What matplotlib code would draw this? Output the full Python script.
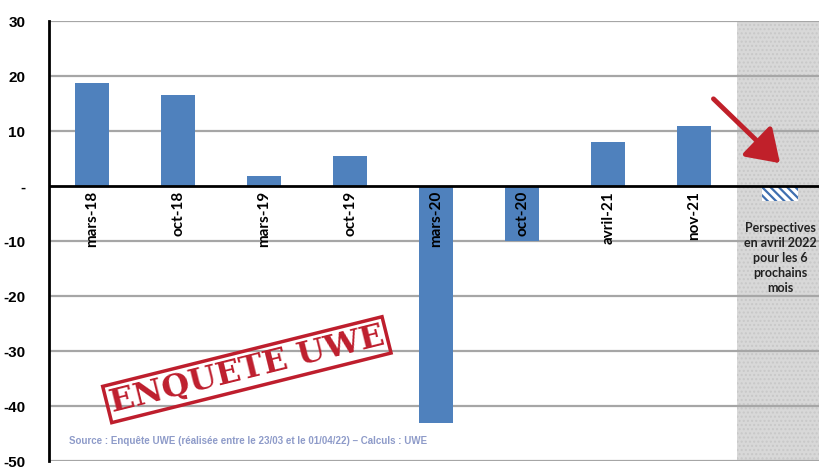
import matplotlib
matplotlib.use("Agg")
import matplotlib.pyplot as plt
from matplotlib.patches import FancyArrowPatch

categories = ["mars-18", "oct-18", "mars-19", "oct-19", "mars-20", "oct-20", "avril-21", "nov-21"]
values = [18.8, 16.6, 1.8, 5.4, -43.1, -10.0, 8.0, 11.0]
perspective_value = -2.7
perspective_label = "Perspectives\nen avril 2022\npour les 6\nprochains\nmois"
yticks = [30, 20, 10, 0, -10, -20, -30, -40, -50]
ytick_labels = ["30", "20", "10", "-", "-10", "-20", "-30", "-40", "-50"]
source_text = "Source : Enquête UWE (réalisée entre le 23/03 et le 01/04/22) – Calculs : UWE"
stamp_text = "ENQUETE UWE"

fig = plt.figure(figsize=(8.19, 4.68), dpi=100)
ax = fig.add_axes([49/819, 7/468, 1 - 49/819, (461-21)/468])

ax.set_xlim(-0.5, 8.45)
ax.set_ylim(-50, 30)

# shaded perspective area
ax.axvspan(7.5, 8.6, facecolor="#D8D8D8", edgecolor="#C8C8C8", hatch="....", linewidth=0, zorder=0)

# gridlines
for y in yticks:
    if y != 0:
        ax.axhline(y, color="#A6A6A6", lw=1.6, zorder=1)

blue = "#4F81BD"
xs = list(range(len(categories)))
ax.bar(xs, values, width=0.4, color=blue, zorder=3)
plt.rcParams["hatch.linewidth"] = 1.6
ax.bar([8], [perspective_value], width=0.42, color="white", edgecolor="#3F6FAF", hatch="\\\\\\\\", linewidth=0, zorder=3)

ax.axhline(0, color="black", lw=2, zorder=4)

# category labels
for x, c in zip(xs, categories):
    ax.text(x, -0.9, c, rotation=90, ha="center", va="top", fontsize=11,
            fontweight="bold", family="Lato", zorder=5)

ax.text(8, -6.6, perspective_label, ha="center", va="top", fontsize=9,
        fontweight="bold", family="Lato", color="#222222", linespacing=1.3, zorder=5)

ax.set_yticks(yticks)
ax.set_yticklabels(ytick_labels, fontsize=11, fontweight="bold", family="Liberation Sans")
ax.tick_params(axis="y", length=0, pad=17)
ax.set_xticks([])
for s in ["top", "right", "bottom"]:
    ax.spines[s].set_visible(False)
ax.spines["left"].set_linewidth(2)
ax.spines["left"].set_color("black")

# arrow
arr = FancyArrowPatch((7.2, 16.2), (8.02, 3.8), arrowstyle="-|>,head_length=12,head_width=8",
                      color="#C0202A", lw=3.5, mutation_scale=1.6, zorder=6)
ax.add_patch(arr)

# stamp
ax.text(1.8, -33.4, stamp_text, rotation=14, ha="center", va="center", fontsize=23,
        fontweight="bold", family="DejaVu Serif", color="#BE1E2D", zorder=6,
        bbox=dict(boxstyle="square,pad=0.1", fc="none", ec="#BE1E2D", lw=2.5))

ax.text(-0.27, -46.4, source_text, fontsize=7, fontweight="bold", family="Liberation Sans",
        color="#8E9BC9", ha="left", va="center", zorder=6)

fig.savefig("out.png", dpi=100)
